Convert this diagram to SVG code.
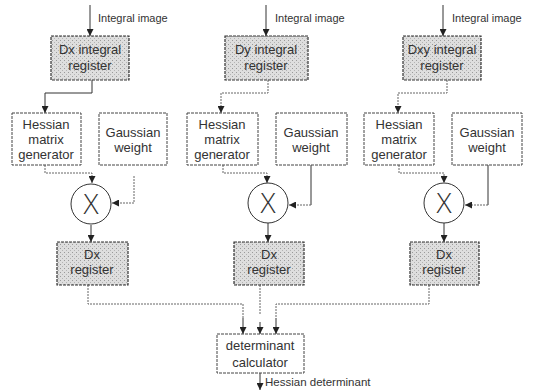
<svg xmlns="http://www.w3.org/2000/svg" width="542" height="392" viewBox="0 0 542 392">
<style>
text{font-family:"Liberation Sans",Arial,sans-serif;font-size:13px;fill:#333;text-anchor:middle}
.lbl{text-anchor:start;font-size:11px}
.box{fill:#fff;stroke:#444;stroke-width:1;stroke-dasharray:3 1}
.sh{fill:url(#stip);stroke:#333;stroke-width:1.2;stroke-dasharray:3 1}
.sol{fill:none;stroke:#333;stroke-width:1}
.dot{fill:none;stroke:#666;stroke-width:1;stroke-dasharray:2 1}
.arr{marker-end:url(#ah)}
.circ{fill:#fff;stroke:#333;stroke-width:1}
.x{font-family:"Open Sans","DejaVu Sans",sans-serif;font-size:28px;font-weight:300}
</style>
<defs>
<pattern id="stip" width="4" height="4" patternUnits="userSpaceOnUse">
<rect width="4" height="4" fill="#dedede"/>
<rect x="0" y="0" width="1" height="1" fill="#9a9a9a"/>
<rect x="2" y="2" width="1" height="1" fill="#b4b4b4"/>
</pattern>
<marker id="ah" viewBox="0 0 8 8" refX="8" refY="4" markerWidth="7" markerHeight="7" orient="auto" markerUnits="userSpaceOnUse">
<path d="M0,0 L8,4 L0,8 Z" fill="#222"/>
</marker>
</defs>

<g id="connectors">
<line class="sol arr" x1="90" y1="5" x2="90" y2="36"/>
<line class="sol arr" x1="266" y1="5" x2="266" y2="36"/>
<line class="sol arr" x1="443" y1="5" x2="443" y2="36"/>
<path class="sol arr" d="M92,80 V93 H45 V113"/>
<path class="dot arr" d="M268,80 V93 H221 V113"/>
<path class="dot arr" d="M447,80 V93 H398 V113"/>
<path class="dot arr" d="M45,165 V173 H92 V183"/>
<path class="dot arr" d="M223,165 V173 H267 V183"/>
<path class="dot arr" d="M399,165 V173 H444 V183"/>
<path class="dot arr" d="M134,176 V203 H112"/>
<path class="sol" d="M311,165 V205"/>
<path class="dot arr" d="M311,205 H289"/>
<path class="sol" d="M488,165 V205"/>
<path class="dot arr" d="M488,205 H465"/>
<line class="sol arr" x1="91" y1="225" x2="91" y2="242"/>
<line class="sol arr" x1="268" y1="223" x2="268" y2="242"/>
<line class="sol arr" x1="444" y1="223" x2="444" y2="242"/>
<path class="dot" d="M88,285 V304 H243 V318"/>
<line class="sol arr" x1="243" y1="318" x2="243" y2="334"/>
<path class="dot" d="M260,285 V314"/>
<line class="sol arr" x1="260" y1="322" x2="260" y2="334"/>
<path class="dot" d="M429,285 V304 H276 V318"/>
<line class="sol arr" x1="276" y1="318" x2="276" y2="334"/>
<line class="sol arr" x1="260" y1="373" x2="260" y2="390"/>
</g>

<g id="labels">
<text class="lbl" x="98" y="22">Integral image</text>
<text class="lbl" x="275" y="22">Integral image</text>
<text class="lbl" x="452" y="22">Integral image</text>
<text class="lbl" x="265" y="386" style="font-size:11.5px">Hessian determinant</text>
</g>

<g id="dx-integral-register">
<rect class="sh" x="51" y="36" width="78" height="44"/>
<text x="90" y="54">Dx integral</text>
<text x="90" y="70">register</text>
</g>
<g id="dy-integral-register">
<rect class="sh" x="225" y="36" width="83" height="44"/>
<text x="266" y="54">Dy integral</text>
<text x="266" y="70">register</text>
</g>
<g id="dxy-integral-register">
<rect class="sh" x="403" y="36" width="78" height="44"/>
<text x="442" y="54">Dxy integral</text>
<text x="442" y="70">register</text>
</g>

<g id="hessian-1">
<rect class="box" x="12" y="113" width="69" height="52"/>
<text x="46" y="129">Hessian</text>
<text x="46" y="144">matrix</text>
<text x="46" y="159">generator</text>
</g>
<g id="gaussian-1">
<rect class="box" x="99" y="113" width="68" height="52"/>
<text x="133" y="137">Gaussian</text>
<text x="133" y="152">weight</text>
</g>
<g id="hessian-2">
<rect class="box" x="187" y="113" width="71" height="52"/>
<text x="222" y="129">Hessian</text>
<text x="222" y="144">matrix</text>
<text x="222" y="159">generator</text>
</g>
<g id="gaussian-2">
<rect class="box" x="276" y="113" width="71" height="52"/>
<text x="311" y="137">Gaussian</text>
<text x="311" y="152">weight</text>
</g>
<g id="hessian-3">
<rect class="box" x="364" y="113" width="70" height="52"/>
<text x="399" y="129">Hessian</text>
<text x="399" y="144">matrix</text>
<text x="399" y="159">generator</text>
</g>
<g id="gaussian-3">
<rect class="box" x="452" y="113" width="70" height="52"/>
<text x="487" y="137">Gaussian</text>
<text x="487" y="152">weight</text>
</g>

<g id="mult-1">
<circle class="circ" cx="91" cy="204" r="20"/>
<text class="x" x="91" y="214">X</text>
</g>
<g id="mult-2">
<circle class="circ" cx="268" cy="203" r="20"/>
<text class="x" x="268" y="213">X</text>
</g>
<g id="mult-3">
<circle class="circ" cx="444" cy="203" r="20"/>
<text class="x" x="444" y="213">X</text>
</g>

<g id="dx-register-1">
<rect class="sh" x="57" y="242" width="71" height="43"/>
<text x="92" y="259">Dx</text>
<text x="92" y="274">register</text>
</g>
<g id="dx-register-2">
<rect class="sh" x="234" y="242" width="70" height="43"/>
<text x="269" y="259">Dx</text>
<text x="269" y="274">register</text>
</g>
<g id="dx-register-3">
<rect class="sh" x="410" y="242" width="69" height="43"/>
<text x="444" y="259">Dx</text>
<text x="444" y="274">register</text>
</g>

<g id="determinant-calculator">
<rect class="box" x="217" y="334" width="87" height="39"/>
<text x="260" y="350">determinant</text>
<text x="260" y="367">calculator</text>
</g>
</svg>
